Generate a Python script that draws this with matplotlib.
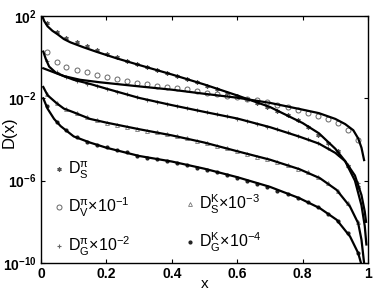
import numpy as np
import matplotlib
matplotlib.use("Agg")
import matplotlib.pyplot as plt
from matplotlib.lines import Line2D

plt.rcParams['font.family'] = ['Liberation Sans', 'DejaVu Sans']
plt.rcParams['mathtext.fontset'] = 'custom'
plt.rcParams['mathtext.rm'] = 'Liberation Sans'
plt.rcParams['mathtext.it'] = 'Liberation Sans:italic'
plt.rcParams['mathtext.bf'] = 'Liberation Sans:bold'

# ---- data (log10 D) ----
x_markers = [0.017, 0.048, 0.078, 0.109, 0.140, 0.170, 0.201, 0.232, 0.263, 0.293,
             0.324, 0.355, 0.385, 0.416, 0.447, 0.477, 0.508, 0.539, 0.570, 0.600,
             0.631, 0.662, 0.692, 0.723, 0.754, 0.785, 0.815, 0.846, 0.877, 0.907,
             0.938, 0.969]

pS_pts = [1.66, 1.22, 0.94, 0.73, 0.53, 0.34, 0.17, -0.01, -0.17, -0.32,
          -0.47, -0.61, -0.76, -0.92, -1.07, -1.22, -1.38, -1.55, -1.72, -1.88,
          -2.04, -2.21, -2.40, -2.60, -2.82, -3.05, -3.40, -3.76, -4.15, -4.58,
          -5.30, -6.30]
pV_pts = [0.27, -0.22, -0.46, -0.62, -0.73, -0.86, -0.98, -1.07, -1.16, -1.24,
          -1.32, -1.40, -1.47, -1.51, -1.56, -1.64, -1.72, -1.80, -1.87, -1.95,
          -2.03, -2.10, -2.20, -2.30, -2.42, -2.55, -2.72, -2.85, -3.01, -3.21,
          -3.53, -4.02]
pG_pts = [-0.20, -0.72, -0.97, -1.15, -1.28, -1.40, -1.53, -1.68, -1.80, -1.94,
          -2.06, -2.17, -2.28, -2.38, -2.48, -2.58, -2.68, -2.78, -2.88, -2.98,
          -3.10, -3.23, -3.37, -3.50, -3.65, -3.82, -3.98, -4.17, -4.40, -4.72,
          -5.22, -6.10]
kS_pts = [-1.80, -2.24, -2.52, -2.72, -2.90, -3.05, -3.18, -3.28, -3.38, -3.48,
          -3.57, -3.66, -3.75, -3.85, -3.95, -4.06, -4.18, -4.30, -4.43, -4.57,
          -4.71, -4.84, -4.96, -5.10, -5.25, -5.41, -5.60, -5.82, -6.10, -6.50,
          -7.10, -8.00]
kG_pts = [-2.35, -3.15, -3.55, -3.90, -4.10, -4.25, -4.38, -4.50, -4.62, -4.78,
          -4.88, -4.96, -5.04, -5.13, -5.25, -5.37, -5.48, -5.60, -5.73, -5.86,
          -6.00, -6.17, -6.33, -6.50, -6.65, -6.82, -7.02, -7.28, -7.60, -7.95,
          -8.55, -9.50]

pS_x = [0.005, 0.01, 0.02, 0.035, 0.05, 0.07, 0.09, 0.13, 0.17, 0.23, 0.30, 0.40,
        0.50, 0.60, 0.70, 0.80, 0.85, 0.90, 0.93, 0.96, 0.98, 0.99, 0.995]
pS_fit = [1.95, 1.75, 1.50, 1.28, 1.12, 0.88, 0.72, 0.48, 0.26, -0.05, -0.38, -0.84,
          -1.33, -1.86, -2.42, -3.20, -3.70, -4.45, -5.05, -6.00, -7.20, -8.20, -9.10]

pV_x = [0.007, 0.03, 0.07, 0.12, 0.18, 0.30, 0.40, 0.50, 0.60, 0.70, 0.80, 0.85,
        0.90, 0.93, 0.955, 0.97, 0.98, 0.988]
pV_fit = [-0.54, -0.68, -0.92, -1.10, -1.22, -1.42, -1.58, -1.78, -1.97, -2.22, -2.55,
          -2.72, -3.00, -3.25, -3.55, -3.95, -4.40, -5.00]

pG_x = [0.007, 0.015, 0.025, 0.045, 0.07, 0.10, 0.15, 0.20, 0.30, 0.40, 0.50, 0.60,
        0.70, 0.79, 0.85, 0.90, 0.93, 0.96, 0.98, 0.99, 0.994]
pG_fit = [0.27, -0.10, -0.46, -0.75, -0.92, -1.10, -1.30, -1.53, -1.98, -2.33, -2.66,
          -2.98, -3.40, -3.86, -4.20, -4.65, -5.05, -5.75, -6.70, -7.50, -8.00]

kS_x = [0.007, 0.02, 0.048, 0.07, 0.10, 0.15, 0.20, 0.30, 0.40, 0.50, 0.60, 0.70,
        0.79, 0.853, 0.904, 0.945, 0.97, 0.98, 0.988]
kS_fit = [-1.45, -1.85, -2.24, -2.50, -2.68, -3.00, -3.18, -3.50, -3.80, -4.15, -4.57,
          -4.98, -5.44, -5.88, -6.45, -7.26, -8.07, -8.87, -10.0]

kG_x = [0.007, 0.02, 0.04, 0.06, 0.10, 0.15, 0.20, 0.30, 0.40, 0.50, 0.60, 0.70,
        0.79, 0.853, 0.904, 0.945, 0.97, 0.982]
kG_fit = [-2.00, -2.50, -3.00, -3.35, -3.85, -4.15, -4.40, -4.80, -5.07, -5.42, -5.83,
          -6.30, -6.85, -7.34, -7.90, -8.71, -9.52, -10.2]

x_ticks = [0, 0.2, 0.4, 0.6, 0.8, 1]
x_ticklabels = ['0', '0.2', '0.4', '0.6', '0.8', '1']
y_ticks = [1e2, 1e-2, 1e-6, 1e-10]
y_ticklabels = [r'$\mathbf{10^{2}}$', r'$\mathbf{10^{-2}}$', r'$\mathbf{10^{-6}}$', r'$\mathbf{10^{-10}}$']

labels = [r'$\mathrm{D^{\pi}_{S}}$',
          r'$\mathrm{D^{\pi}_{V}}$×$\mathrm{10^{-1}}$',
          r'$\mathrm{D^{\pi}_{G}}$×$\mathrm{10^{-2}}$',
          r'$\mathrm{D^{K}_{S}}$×$\mathrm{10^{-3}}$',
          r'$\mathrm{D^{K}_{G}}$×$\mathrm{10^{-4}}$']

def p10(v):
    return 10.0 ** np.asarray(v)

fig = plt.figure(figsize=(3.74, 2.93), dpi=100)
ax = fig.add_axes([0.1096, 0.1024, 0.8744, 0.8430])

lw = 1.6
for xs, ys in [(pS_x, pS_fit), (pV_x, pV_fit), (pG_x, pG_fit), (kS_x, kS_fit), (kG_x, kG_fit)]:
    ax.plot(xs, p10(ys), color='black', lw=lw, zorder=3)

hS, = ax.plot(x_markers, p10(pS_pts), ls='none', marker=(6, 2, 0), ms=3.0, mew=0.9,
              color='#555555', zorder=2)
hV, = ax.plot(x_markers, p10(pV_pts), ls='none', marker='o', ms=3.6, mfc='none',
              mec='#666666', mew=0.7, zorder=2)
hG, = ax.plot(x_markers, p10(pG_pts), ls='none', marker='+', ms=3.2, mew=0.8,
              color='#666666', zorder=2)
hKS, = ax.plot(x_markers, p10(kS_pts), ls='none', marker='^', ms=2.8, mfc='none',
               mec='#777777', mew=0.6, zorder=2)
hKG, = ax.plot(x_markers, p10(kG_pts), ls='none', marker='o', ms=2.0, color='#222222',
               zorder=2)

ax.set_yscale('log')
ax.set_xlim(0, 1)
ax.set_ylim(1e-10, 1e2)
ax.set_xticks(x_ticks)
ax.set_xticklabels(x_ticklabels, fontweight='bold', fontsize=10)
ax.set_yticks(y_ticks)
ax.set_yticklabels(y_ticklabels, fontsize=10)
ax.minorticks_off()
ax.tick_params(direction='in', top=True, right=True, length=3, width=0.8, pad=3)
for s in ax.spines.values():
    s.set_linewidth(1.0)

ax.set_xlabel('x', fontsize=11, labelpad=-3)
ax.set_ylabel('D(x)', fontsize=12)
ax.yaxis.set_label_coords(-0.075, 0.53)

blank = Line2D([], [], ls='none')
leg = ax.legend([hS, hV, hG, blank, hKS, hKG],
                [labels[0], labels[1], labels[2], '', labels[3], labels[4]],
                ncol=2, frameon=False, loc='lower left', bbox_to_anchor=(0.0, -0.03),
                fontsize=11.5, handlelength=0.6, handletextpad=0.3,
                columnspacing=3.4, labelspacing=0.95, borderpad=0.3)

fig.savefig('out.png', dpi=100)
